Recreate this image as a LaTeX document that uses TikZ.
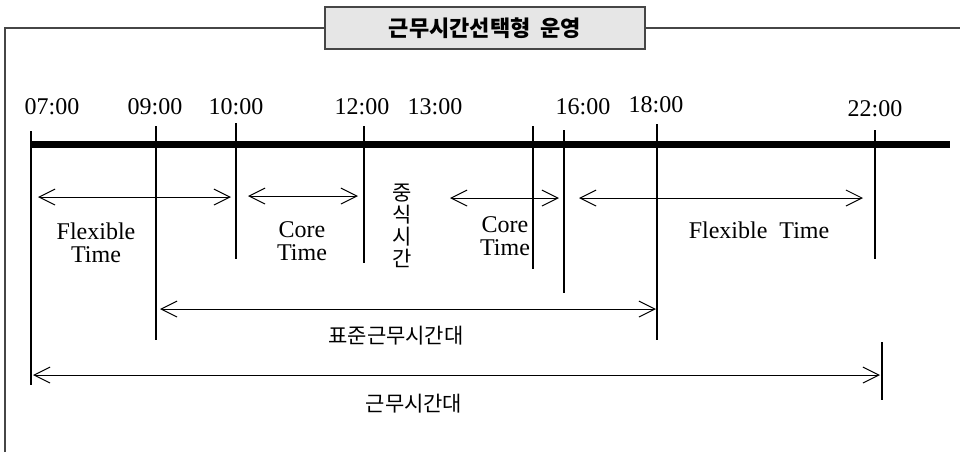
\documentclass[tikz,border=0pt]{standalone}
\usepackage{fontspec}
\setmainfont{Liberation Serif}
\newfontfamily\kor{Noto Sans CJK KR}
\usetikzlibrary{arrows.meta}

\definecolor{boxgray}{RGB}{230,230,230}
\definecolor{framegray}{RGB}{70,70,70}

\begin{document}
\begin{tikzpicture}[x=0.5pt,y=-0.5pt,
  frame/.style={draw=framegray, line width=0.6pt},
  titlebox/.style={frame, fill=boxgray, minimum width=160pt, minimum height=21pt, inner sep=0pt,
    font=\kor\bfseries\fontsize{11}{13}\selectfont},
  tick/.style={line width=0.65pt},
  span/.style={{Straight Barb[length=8pt,width=8pt]}-{Straight Barb[length=8pt,width=8pt]}, line width=0.5pt},
  time/.style={inner sep=0pt, font=\fontsize{12}{14}\selectfont},
  lbl/.style={inner sep=0pt, align=center, font=\fontsize{12}{11.5}\selectfont},
  klbl/.style={inner sep=0pt, align=center, font=\kor\fontsize{10.5}{11}\selectfont}]

\useasboundingbox (0,0) rectangle (960,452);

%\draw[help lines,step=50] (0,0) grid (960,452);

%% title and frame
\node [titlebox] (title) at (485,28) {근무시간선택형\hspace{5pt}운영};
\draw [frame] (5,452) -- (5,28) -- (title.west);
\draw [frame] (title.east) -- (960,28);

%% time labels
\node [time] (l07) at (52,107) {07:00};
\node [time] (l09) at (155,107) {09:00};
\node [time] (l10) at (236,107) {10:00};
\node [time] (l12) at (362,107) {12:00};
\node [time] (l13) at (435,107) {13:00};
\node [time] (l16) at (583,107) {16:00};
\node [time] (l18) at (656,105) {18:00};
\node [time] (l22) at (875,109) {22:00};

%% ticks
\foreach \name/\x/\top/\bot in {t07/31/131/385, t09/156/126/340, t10/236/123/259,
    t12/364/126/263, t13/533/126/269, t16/564/130/293, t18/657/124/340,
    t22/875/130/259, t22b/882/342/400} {
  \coordinate (\name top) at (\x,\top);
  \coordinate (\name bot) at (\x,\bot);
  \draw [tick] (\name top) -- (\name bot);
}

%% time line
\draw [line width=3.5pt] (30,144) -- (950,144);

%% first row of spans
\coordinate (flexa) at (38,197);
\coordinate (flexb) at (231,197);
\draw [span] (flexa) -- (flexb);
\node [lbl] (flex1) at (96,243) {Flexible\\Time};

\coordinate (corea) at (248,196);
\coordinate (coreb) at (358,196);
\draw [span] (corea) -- (coreb);
\node [lbl] (core1) at (302,241) {Core\\Time};

\node [klbl] (lunch) at (402,226) {중\\식\\시\\간};

\coordinate (coreca) at (450,198);
\coordinate (corecb) at (559,198);
\draw [span] (coreca) -- (corecb);
\node [lbl] (core2) at (505,236) {Core\\Time};

\coordinate (flexca) at (579,198);
\coordinate (flexcb) at (863,198);
\draw [span] (flexca) -- (flexcb);
\node [lbl] (flex2) at (759,230) {Flexible\hspace{6pt}Time};

%% standard hours
\coordinate (stda) at (160,309);
\coordinate (stdb) at (656,309);
\draw [span] (stda) -- (stdb);
\node [klbl] (std) at (396,336) {표준근무시간대};

%% working hours
\coordinate (worka) at (33,375);
\coordinate (workb) at (880,375);
\draw [span] (worka) -- (workb);
\node [klbl] (work) at (414,404) {근무시간대};

\end{tikzpicture}
\end{document}
